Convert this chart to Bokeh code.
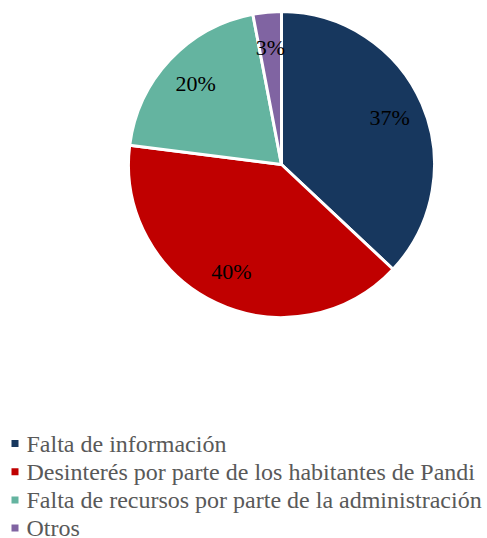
import math
from bokeh.plotting import figure
from bokeh.models import Range1d, ColumnDataSource
from bokeh.core.properties import value
from bokeh.embed import file_html
from bokeh.resources import INLINE

categories = ["Falta de información",
              "Desinterés por parte de los habitantes de Pandi",
              "Falta de recursos por parte de la administración",
              "Otros"]
percentages = [37, 40, 20, 3]
colors = ["#17375E", "#C00000", "#64B4A0", "#8064A2"]

W, H = 487, 538
p = figure(width=W, height=H, output_backend="svg", toolbar_location=None,
           x_range=Range1d(0, W), y_range=Range1d(-H, 0),
           min_border=0)
p.axis.visible = False
p.grid.visible = False
p.outline_line_color = None
p.background_fill_color = "white"
p.border_fill_color = "white"

cx, cy, r = 281, -164, 153
total = sum(percentages)
starts, ends, lx, ly, labels = [], [], [], [], []
cum = 0.0
for v in percentages:
    a0 = math.pi / 2 - 2 * math.pi * cum / total
    cum += v
    a1 = math.pi / 2 - 2 * math.pi * cum / total
    starts.append(a1)
    ends.append(a0)
    mid = (a0 + a1) / 2
    lx.append(cx + 0.77 * r * math.cos(mid))
    ly.append(cy + 0.77 * r * math.sin(mid))
    labels.append(f"{v}%")

src = ColumnDataSource(dict(start=starts, end=ends, color=colors))
p.wedge(x=cx, y=cy, radius=r, start_angle="start", end_angle="end",
        fill_color="color", line_color="white", line_width=3, source=src)

p.text(x=lx, y=ly, text=labels, text_font=value("Liberation Serif"),
       text_font_size="22px", text_align="center", text_baseline="middle",
       text_color="#000000")

# legend
step = 28.2
mark_y = [-(443 + i * step) for i in range(len(categories))]
text_y = [-(443 + i * step) for i in range(len(categories))]
p.scatter(x=[14.5] * len(categories), y=mark_y, marker="square",
          size=7, fill_color=colors, line_color=None)
p.text(x=[26] * len(categories), y=text_y, text=categories,
       text_font=value("Liberation Serif"), text_font_size="24px",
       text_align="left", text_baseline="middle", text_color="#595959")

open("out.html", "w").write(file_html(p, INLINE))
